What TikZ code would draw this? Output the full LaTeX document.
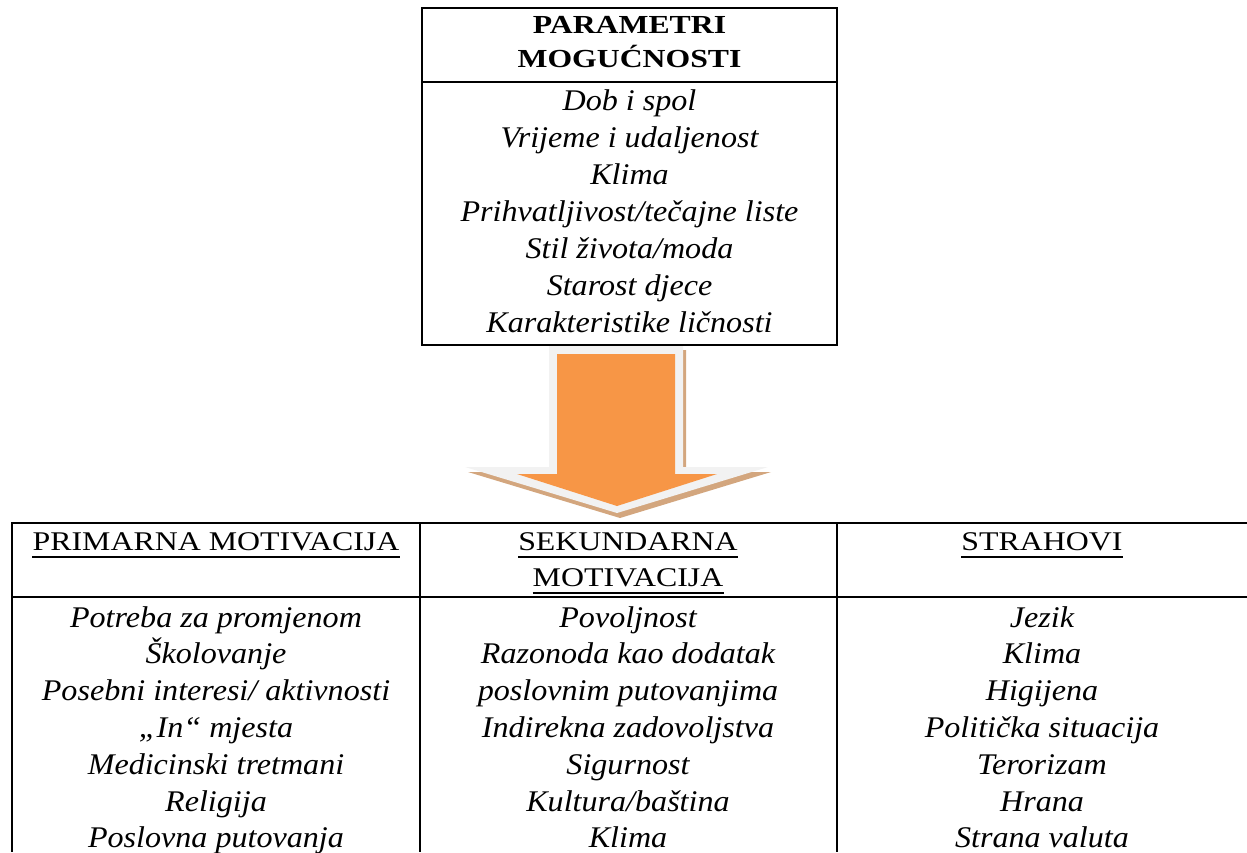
\documentclass[tikz,border=0pt]{standalone}
\usepackage{fontspec}
\setmainfont{Liberation Serif}
\newfontfamily\itfont[FakeStretch=1.07]{Liberation Serif}
\newfontfamily\hdfont[FakeStretch=1.18]{Liberation Serif}
\newfontfamily\tophdfont[FakeStretch=1.22]{Liberation Serif}
\definecolor{arroworange}{HTML}{F79646}
\definecolor{arrowgray}{HTML}{F2F2F2}
\definecolor{arrowshadow}{HTML}{D3A67E}
\tikzset{
  frame/.style={line width=2pt, draw=black},
  item/.style={anchor=base, inner sep=0pt, font=\itfont\itshape\fontsize{30}{36}\selectfont},
  hdr/.style={anchor=base, inner sep=0pt, font=\hdfont\fontsize{27}{32}\selectfont},
  tophdr/.style={anchor=base, inner sep=0pt, font=\tophdfont\bfseries\fontsize{26}{31}\selectfont},
  uline/.style={line width=1.4pt, draw=black}
}
\begin{document}
\begin{tikzpicture}[x=1pt,y=-1pt]
\useasboundingbox (0,0) rectangle (1247,852);
% ---------- arrow ----------
\def\arrowpath{(549,345) -- (683,345) -- (683,467) -- (768,467) -- (617,513) -- (465,467) -- (549,467) -- cycle}
\fill[arrowshadow,shift={(3pt,-5pt)}] \arrowpath;
\fill[arrowgray] \arrowpath;
\fill[arroworange] (557,354) -- (675,354) -- (675,474) -- (717,474) -- (617,506) -- (517,474) -- (557,474) -- cycle;
% ---------- top box ----------
\draw[frame] (422,8) rectangle (837,345);
\draw[frame] (422,82) -- (837,82);
\node[tophdr] (th1) at (629.5,33) {PARAMETRI};
\node[tophdr] (th2) at (629.5,67) {MOGUĆNOSTI};
\foreach \t [count=\i from 0] in {Dob i spol,Vrijeme i udaljenost,Klima,Prihvatljivost/tečajne liste,Stil života/moda,Starost djece,Karakteristike ličnosti}
  \node[item] (pm\i) at (629.5,110+37*\i) {\t};
% ---------- bottom table ----------
\draw[frame] (12,523) -- (1247,523);
\draw[frame] (12,597) -- (1247,597);
\draw[frame] (12,522) -- (12,852);
\draw[frame] (420,522) -- (420,852);
\draw[frame] (837,522) -- (837,852);
\node[hdr] (h1) at (216,550) {PRIMARNA MOTIVACIJA};
\node[hdr] (h2a) at (628,550) {SEKUNDARNA};
\node[hdr] (h2b) at (628,586) {MOTIVACIJA};
\node[hdr] (h3) at (1042,550) {STRAHOVI};
\foreach \n in {h1,h2a,h2b,h3}
  \draw[uline] ([yshift=-7pt]\n.base west) -- ([yshift=-7pt]\n.base east);
\foreach \t [count=\i from 0] in {Potreba za promjenom,Školovanje,Posebni interesi/ aktivnosti,„In“ mjesta,Medicinski tretmani,Religija,Poslovna putovanja}
  \node[item] (pa\i) at (216,627+36.8*\i) {\t};
\foreach \t [count=\i from 0] in {Povoljnost,Razonoda kao dodatak,poslovnim putovanjima,Indirekna zadovoljstva,Sigurnost,Kultura/baština,Klima}
  \node[item] (se\i) at (628,627+36.8*\i) {\t};
\foreach \t [count=\i from 0] in {Jezik,Klima,Higijena,Politička situacija,Terorizam,Hrana,Strana valuta}
  \node[item] (st\i) at (1042,627+36.8*\i) {\t};
\end{tikzpicture}
\end{document}
